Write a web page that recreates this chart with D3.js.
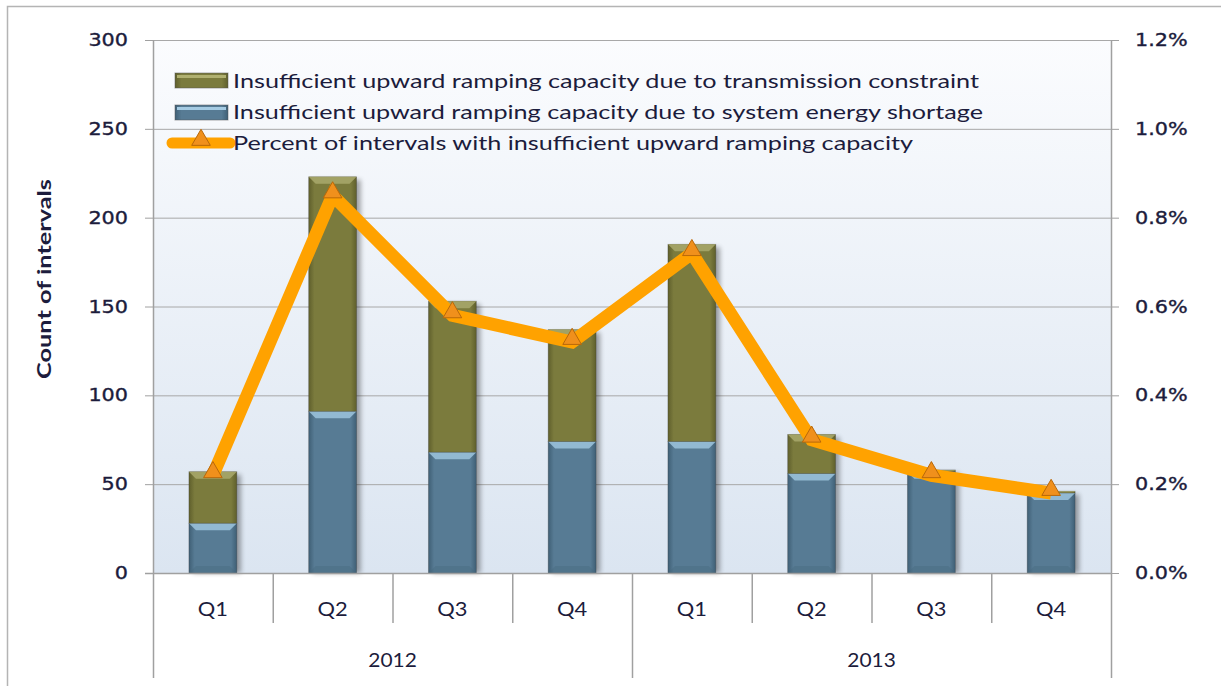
<!DOCTYPE html>
<html>
<head>
<meta charset="utf-8">
<script src="https://cdn.jsdelivr.net/npm/d3@7"></script>
<style>
  body { margin: 0; background: #fff; }
  svg text { fill: #1c1c3c; }
  .num { stroke: #1c1c3c; stroke-width: 0.35px; }
</style>
</head>
<body>
<svg id="chart" width="1221" height="686"></svg>
<script>
// data
var years = ["2012", "2013"];
var quarters = ["Q1", "Q2", "Q3", "Q4", "Q1", "Q2", "Q3", "Q4"];
var shortage = [28, 91, 68, 74, 74, 56, 57, 45];      // system energy shortage
var transmission = [29, 132, 85, 63, 111, 22, 1, 1];  // transmission constraint
var percent = [0.22, 0.85, 0.58, 0.52, 0.72, 0.30, 0.22, 0.18];
var leftTicks = [0, 50, 100, 150, 200, 250, 300];
var rightTicks = [0, 0.2, 0.4, 0.6, 0.8, 1.0, 1.2];
var legendLabels = [
  "Insufficient upward ramping capacity due to transmission constraint",
  "Insufficient upward ramping capacity due to system energy shortage",
  "Percent of intervals with insufficient upward ramping capacity"
];

var svg = d3.select("#chart");
var pLeft = 153, pRight = 1111, pTop = 40, pBottom = 573;
var stretch = 1.22; // the source text is a bit wider than normal

var idx = d3.range(quarters.length);
var x = d3.scaleBand().domain(idx).range([pLeft, pRight]).paddingInner(0.6).paddingOuter(0.3);
var xs = d3.scaleBand().domain(idx).range([pLeft, pRight]);
var y = d3.scaleLinear().domain([0, 300]).range([pBottom, pTop]);
var y2 = d3.scaleLinear().domain([0, 1.2]).range([pBottom, pTop]);

var defs = svg.append("defs");
var bg = defs.append("linearGradient").attr("id", "bg").attr("x1", 0).attr("y1", 0).attr("x2", 0).attr("y2", 1);
bg.append("stop").attr("offset", "0%").attr("stop-color", "#fbfcfe");
bg.append("stop").attr("offset", "100%").attr("stop-color", "#dbe5f1");

function barGrad(id, edge, mid) {
  var g = defs.append("linearGradient").attr("id", id).attr("x1", 0).attr("y1", 0).attr("x2", 1).attr("y2", 0);
  g.append("stop").attr("offset", "0%").attr("stop-color", edge);
  g.append("stop").attr("offset", "12%").attr("stop-color", mid);
  g.append("stop").attr("offset", "88%").attr("stop-color", mid);
  g.append("stop").attr("offset", "100%").attr("stop-color", edge);
}
barGrad("blue", "#3f5f75", "#577b94");
barGrad("olive", "#5f5f2c", "#7b7b3d");

var shadow = defs.append("filter").attr("id", "shadow").attr("x", "-20%").attr("y", "-20%").attr("width", "150%").attr("height", "140%");
shadow.append("feGaussianBlur").attr("stdDeviation", 2.5);

// outer frame
svg.append("path").attr("d", "M7.5,686V6.5H1221").attr("fill", "none").attr("stroke", "#b4b4b4").attr("stroke-width", 1.5);

// plot area
svg.append("rect").attr("x", pLeft).attr("y", pTop).attr("width", pRight - pLeft).attr("height", pBottom - pTop).attr("fill", "url(#bg)");

// grid lines
svg.append("g").selectAll("line").data(leftTicks.slice(1)).join("line")
  .attr("x1", pLeft).attr("x2", pRight)
  .attr("y1", function(d) { return y(d) + 0.5; }).attr("y2", function(d) { return y(d) + 0.5; })
  .attr("stroke", "#a8a8a8");

// bars
var bars = svg.append("g");
idx.forEach(function(i) {
  var bx = x(i), bw = x.bandwidth();
  var segs = [
    { y0: 0, y1: shortage[i], fill: "url(#blue)", light: "#9cc4dd", dark: "#46667c" },
    { y0: shortage[i], y1: shortage[i] + transmission[i], fill: "url(#olive)", light: "#a9a96c", dark: null }
  ];
  bars.append("rect").attr("x", bx + 4).attr("y", y(shortage[i] + transmission[i]) + 3)
    .attr("width", bw).attr("height", y(0) - y(shortage[i] + transmission[i]) - 3)
    .attr("fill", "#000").attr("opacity", 0.35).attr("filter", "url(#shadow)");
  segs.forEach(function(s) {
    var h = y(s.y0) - y(s.y1);
    if (h <= 0) return;
    bars.append("rect").attr("x", bx).attr("y", y(s.y1)).attr("width", bw).attr("height", h)
      .attr("fill", s.fill).attr("stroke", "#3a3a3a").attr("stroke-opacity", 0.35).attr("stroke-width", 0.8);
    var bev = Math.min(7, h / 2);
    bars.append("path")
      .attr("d", "M" + bx + "," + y(s.y1) + "h" + bw + "l-" + bev + "," + bev + "h-" + (bw - 2 * bev) + "z")
      .attr("fill", s.light).attr("opacity", 0.85);
    if (s.dark) {
      bars.append("path")
        .attr("d", "M" + bx + "," + y(s.y0) + "h" + bw + "l-" + bev + ",-" + bev + "h-" + (bw - 2 * bev) + "z")
        .attr("fill", s.dark).attr("opacity", 0.35);
    }
  });
});

// axes lines
svg.append("line").attr("x1", pLeft + 0.5).attr("x2", pLeft + 0.5).attr("y1", pTop).attr("y2", 678).attr("stroke", "#a0a0a0").attr("stroke-width", 1.5);
svg.append("line").attr("x1", pRight + 0.5).attr("x2", pRight + 0.5).attr("y1", pTop).attr("y2", 678).attr("stroke", "#a0a0a0").attr("stroke-width", 1.5);
svg.append("line").attr("x1", 145).attr("x2", pRight).attr("y1", pBottom + 0.5).attr("y2", pBottom + 0.5).attr("stroke", "#a0a0a0").attr("stroke-width", 1.5);

// left axis ticks and labels
var la = svg.append("g");
leftTicks.forEach(function(t) {
  la.append("line").attr("x1", 145).attr("x2", pLeft).attr("y1", y(t) + 0.5).attr("y2", y(t) + 0.5).attr("stroke", "#a0a0a0");
  la.append("text").attr("class", "num").attr("transform", "translate(128," + (y(t) + 6) + ") scale(" + stretch + ",1)")
    .attr("text-anchor", "end").style("font", "17px 'DejaVu Sans'").text(t);
});

// right axis ticks and labels
var ra = svg.append("g");
rightTicks.forEach(function(t) {
  ra.append("line").attr("x1", pRight).attr("x2", pRight + 8).attr("y1", y2(t) + 0.5).attr("y2", y2(t) + 0.5).attr("stroke", "#a0a0a0");
  ra.append("text").attr("class", "num").attr("transform", "translate(1135," + (y2(t) + 6) + ") scale(" + stretch + ",1)")
    .style("font", "17px 'DejaVu Sans'").text(d3.format(".1f")(t) + "%");
});

// category axis: quarters then years
var ca = svg.append("g");
idx.forEach(function(i) {
  if (i > 0 && i % 4 !== 0) {
    ca.append("line").attr("x1", xs(i) + 0.5).attr("x2", xs(i) + 0.5).attr("y1", pBottom).attr("y2", 623).attr("stroke", "#a0a0a0").attr("stroke-width", 1.5);
  }
  ca.append("text").attr("transform", "translate(" + (xs(i) + xs.bandwidth() / 2) + ",616) scale(1.15,1)")
    .attr("text-anchor", "middle").style("font", "19px Lato").text(quarters[i]);
});
years.forEach(function(yr, k) {
  var x0 = xs(k * 4), x1 = xs(k * 4 + 3) + xs.bandwidth();
  if (k > 0) ca.append("line").attr("x1", x0 + 0.5).attr("x2", x0 + 0.5).attr("y1", pBottom).attr("y2", 678).attr("stroke", "#a0a0a0").attr("stroke-width", 1.5);
  ca.append("text").attr("transform", "translate(" + ((x0 + x1) / 2) + ",667) scale(1.1,1)")
    .attr("text-anchor", "middle").style("font", "19px Lato").text(yr);
});

// y axis title
svg.append("text").attr("transform", "translate(51,279) rotate(-90)")
  .attr("text-anchor", "middle").attr("textLength", 200).attr("lengthAdjust", "spacingAndGlyphs")
  .style("font", "bold 19px Lato").text("Count of intervals");

// percent line
var cx = function(i) { return xs(i) + xs.bandwidth() / 2; };
var line = d3.line().x(function(d, i) { return cx(i); }).y(function(d) { return y2(d); });
svg.append("path").datum(percent).attr("d", line)
  .attr("fill", "none").attr("stroke", "#ffa200").attr("stroke-width", 13).attr("stroke-linejoin", "miter");

var tri = d3.symbol().type(d3.symbolTriangle).size(150);
svg.append("g").selectAll("path").data(percent).join("path")
  .attr("transform", function(d, i) { return "translate(" + cx(i) + "," + (y2(d) - 3) + ")"; })
  .attr("d", tri).attr("fill", "#f0901c").attr("stroke", "#b8680a").attr("stroke-width", 1);

// legend
var lg = svg.append("g");
var lrows = [81, 112, 143];
var lwidths = [746, 750, 680];
lg.append("rect").attr("x", 175).attr("y", 73).attr("width", 53).attr("height", 15).attr("fill", "url(#olive)").attr("stroke", "#555").attr("stroke-opacity", 0.5);
lg.append("rect").attr("x", 177).attr("y", 75).attr("width", 49).attr("height", 3).attr("fill", "#b0b070");
lg.append("rect").attr("x", 175).attr("y", 105).attr("width", 53).attr("height", 15).attr("fill", "url(#blue)").attr("stroke", "#555").attr("stroke-opacity", 0.5);
lg.append("rect").attr("x", 177).attr("y", 107).attr("width", 49).attr("height", 3).attr("fill", "#a5cbe3");
lg.append("line").attr("x1", 172).attr("x2", 230).attr("y1", 143).attr("y2", 143).attr("stroke", "#ffa200").attr("stroke-width", 11).attr("stroke-linecap", "round");
lg.append("path").attr("transform", "translate(201,140)").attr("d", tri).attr("fill", "#f0901c").attr("stroke", "#b8680a");
legendLabels.forEach(function(t, i) {
  lg.append("text").attr("x", 233).attr("y", lrows[i] + 7)
    .attr("textLength", lwidths[i]).attr("lengthAdjust", "spacingAndGlyphs")
    .style("font", "20px Lato").text(t);
});
</script>
</body>
</html>
